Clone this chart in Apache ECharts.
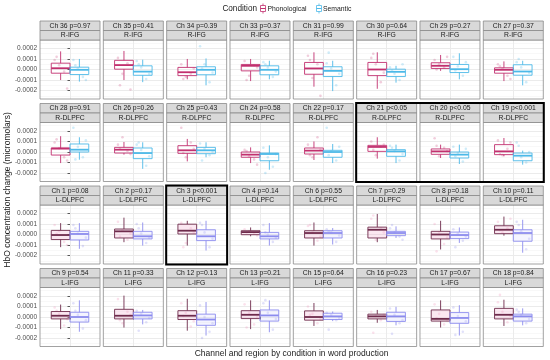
<!DOCTYPE html>
<html><head><meta charset="utf-8">
<script src="https://cdn.jsdelivr.net/npm/echarts@6/dist/echarts.min.js"></script>
<style>html,body{margin:0;padding:0;background:#fff}#c{width:550px;height:360px}</style>
</head><body><div id="c"></div>
<script>
// ---- data (values in units of 1e-4 micromolars) ----
const channels = ['Ch 36','Ch 35','Ch 34','Ch 33','Ch 31','Ch 30','Ch 29','Ch 27',
  'Ch 28','Ch 26','Ch 25','Ch 24','Ch 22','Ch 21','Ch 20','Ch 19',
  'Ch 1','Ch 2','Ch 3','Ch 4','Ch 6','Ch 7','Ch 8','Ch 10',
  'Ch 9','Ch 11','Ch 12','Ch 13','Ch 15','Ch 16','Ch 17','Ch 18'];
const pvalues = ['p=0.97','p=0.41','p=0.39','p=0.37','p=0.99','p=0.64','p=0.27','p=0.37',
  'p=0.91','p=0.26','p=0.43','p=0.58','p=0.17','p<0.05','p<0.05','p<0.001',
  'p=0.08','p=0.17','p<0.001','p=0.14','p=0.55','p=0.29','p=0.18','p=0.11',
  'p=0.54','p=0.33','p=0.13','p=0.21','p=0.64','p=0.23','p=0.67','p=0.84'];
const regions = ['R-IFG','R-DLPFC','L-DLPFC','L-IFG'];
const conditions = ['Phonological','Semantic'];
const highlighted = ['Ch 21','Ch 20','Ch 19','Ch 3'];
const yTicks = [-0.0002,-0.0001,0,0.0001,0.0002];
const yMinor = [-0.00025,-0.00015,-0.00005,0.00005,0.00015,0.00025];
// [lower whisker, Q1, median, Q3, upper whisker]
const phonStats = [
 [-1.0,-0.35,0.12,0.6,1.72],[-1.0,0.03,0.42,0.87,1.76],[-0.93,-0.58,-0.26,0.2,1.0],[-1.1,-0.13,0.35,0.48,1.0],
 [-1.63,-0.45,0.1,0.67,1.63],[-1.83,-0.58,0,0.67,1.63],[-0.13,0.1,0.35,0.64,1.38],[-1.1,-0.35,-0.03,0.16,0.77],
 [-1.05,-0.29,0.32,0.38,1.5],[-0.25,-0.1,0.22,0.44,0.95],[-0.89,-0.13,0.16,0.6,1.24],[-1.05,-0.5,-0.25,0,0.44],
 [-0.76,-0.19,0.13,0.38,1.0],[-0.63,0.06,0.48,0.63,1.4],[-0.57,-0.22,0.06,0.29,0.7],[-0.41,-0.25,0.06,0.7,1.33],
 [-1.2,-0.48,-0.05,0.39,1.08],[-0.73,-0.33,0.3,0.52,1.6],[-1.05,0.05,0.36,0.98,1.3],[-0.17,-0.02,0.23,0.36,0.67],
 [-1.05,-0.33,0.14,0.36,1.14],[-0.73,-0.33,0.45,0.7,1.95],[-1.42,-0.42,0,0.3,1.3],[-0.11,0.08,0.45,0.83,1.7],
 [-1.15,-0.18,0.12,0.52,1.18],[-1.0,-0.18,0.12,0.73,2.03],[-1.3,-0.24,0.12,0.6,1.73],[-1.15,-0.15,0.21,0.6,1.58],
 [-0.85,-0.3,0,0.58,1.33],[-0.55,-0.18,0.06,0.27,0.67],[-1.0,-0.39,-0.18,0.67,1.58],[-0.85,-0.18,0.21,0.82,1.64]];
const semStats = [
 [-1.15,-0.48,-0.03,0.22,1.0],[-1.2,-0.55,-0.2,0.35,0.93],[-1.5,-0.5,-0.03,0.26,1.05],[-0.93,-0.5,-0.03,0.35,0.83],
 [-2.05,-0.67,-0.13,0.26,0.83],[-1.25,-0.67,-0.22,0.03,0.35],[-0.93,-0.29,0.03,0.48,1.54],[-1.5,-0.54,-0.19,0.45,0.83],
 [-0.73,0,0.22,0.76,1.4],[-1.6,-0.63,-0.1,0.38,0.92],[-0.5,-0.16,0.16,0.44,0.92],[-1.68,-0.83,-0.19,-0.1,0.63],
 [-1.05,-0.5,0,0.16,0.76],[-1.05,-0.41,0.06,0.22,0.7],[-1.14,-0.57,-0.25,0,0.7],[-1.2,-0.83,-0.35,-0.1,0.13],
 [-1.36,-0.52,0.05,0.3,1.08],[-1.05,-0.42,-0.17,0.3,1.14],[-1.52,-0.58,-0.17,0.45,1.3],[-1.05,-0.42,-0.17,0.2,1.08],
 [-0.95,-0.33,0.14,0.36,0.61],[-0.33,-0.11,0.14,0.3,0.77],[-0.8,-0.39,-0.05,0.23,0.67],[-1.73,-0.64,0.14,0.45,1.4],
 [-1.4,-0.48,0,0.45,1.58],[-0.7,-0.18,0.15,0.45,0.67],[-1.76,-0.79,-0.24,0.27,1.42],[-1.45,-0.39,0.15,0.67,1.58],
 [-0.39,-0.24,0.06,0.36,0.52],[-0.79,-0.42,0.06,0.45,0.97],[-1.76,-0.6,-0.09,0.42,1.12],[-0.79,-0.39,0.06,0.27,0.82]];
// individual observations (visible points, estimated)
const phonPts = [
 [0.9,-0.2,0.4,-1.8,1.2],[1.1,0.6,-0.4,-1.9,-1.5],[0.5,-0.4,-0.7,0.1,-0.9],[0.8,0.4,-0.6,0.2,-1.0],
 [1.3,0.5,-0.8,-2.5,0.9],[1.1,-1.2,0.5,-0.3,1.5],[0.9,0.2,0.5,1.2,0.0],[0.5,-0.6,0.1,-0.9,0.3],
 [0.9,-0.5,0.35,-0.8,1.2],[0.7,0.1,1.4,-0.2,0.3],[2.3,0.9,-0.5,0.3,-0.1],[0.2,-0.7,-0.4,-1.2,0.1],
 [0.7,1.4,-0.5,0.2,-0.3],[1.0,0.5,-0.3,0.7,0.2],[1.3,0.4,-0.4,0.1,0.6],[1.1,0.3,-0.3,0.9,-0.2],
 [0.9,-0.7,0.3,-1.0,0.1],[1.2,-0.5,0.4,0.1,-0.2],[1.1,0.6,-0.8,0.2,-1.2],[0.5,0.1,0.3,-0.1,0.2],
 [0.8,-0.6,0.2,-0.2,0.9],[1.5,0.6,-0.5,0.2,1.8],[1.0,-0.9,0.2,-0.3,-1.6],[1.2,0.6,0.2,1.5,0.4],
 [0.9,-0.8,0.3,-0.2,0.6],[1.7,0.5,-0.6,0.2,-0.3],[1.3,-0.9,0.4,-0.4,0.1],[1.2,-0.7,0.4,0.0,-1.0],
 [1.0,-0.6,0.3,-0.2,0.2],[0.5,-0.3,0.1,0.2,-1.5],[1.2,-0.7,0.3,-0.3,-0.1],[1.4,-0.5,0.5,0.1,2.1]];
const semPts = [
 [0.9,-0.7,0.1,-1.0,0.4],[0.8,-0.9,0.2,-0.4,0.5],[2.2,-1.2,0.5,-0.3,0.1],[0.7,-0.7,0.2,-0.2,0.5],
 [0.6,-1.5,0.1,-0.4,1.6],[0.2,-1.0,-0.4,0.5,-0.1],[1.2,-0.6,0.3,0.7,-0.1],[0.7,-1.2,0.2,-0.3,1.0],
 [2.3,-0.5,0.5,1.1,-0.7],[0.7,-1.3,0.2,-0.4,0.9],[0.8,-0.3,0.3,0.0,-0.8],[0.4,-1.4,-0.5,-0.2,-2.0],
 [2.3,-0.8,0.1,0.5,-0.3],[0.6,-0.8,0.1,-0.2,0.4],[0.5,-0.9,-0.1,0.3,-0.4],[0.9,-1.0,-0.5,0.0,0.6],
 [0.9,-1.1,0.1,-0.3,0.6],[1.0,-0.8,0.1,-0.3,0.6],[1.1,-1.2,0.2,-0.4,0.9],[0.9,-0.7,0.0,-0.3,0.2],
 [0.5,-0.7,0.2,-0.1,0.3],[0.6,-0.2,0.2,-0.5,0.9],[0.5,-0.6,0.1,-0.2,-1.2],[1.2,-1.4,0.3,-0.4,0.9],
 [1.3,-1.1,0.2,-0.3,0.6],[0.6,-0.5,0.3,-0.1,-1.3],[1.1,-1.4,0.0,-0.6,-2.0],[1.3,-1.2,0.4,-0.2,1.6],
 [0.4,-0.3,0.2,-0.1,-1.2],[0.8,-0.6,0.2,-0.3,-1.6],[0.9,-1.4,0.1,-0.4,-1.7],[0.7,-0.6,0.2,-0.2,0.5]];
const UNIT = 1e-4;

// ---- layout / style ----
const FONT = '"Liberation Sans", Arial, Helvetica, sans-serif';
const PW = 60, PH = 59, STRIP = 9.5;
const colLeft = c => 40 + c * 63.33;
const rowTop = r => 21 + r * 82.5;
const DODGE = 0.1875, BOXW = 0.375;
const JIT = [-0.12, 0.07, -0.03, 0.13, -0.08];
const palette = [
  [{stroke:'#c2306f', fill:'rgba(255,255,255,0)', pt:'rgba(200,60,120,0.32)'},
   {stroke:'#4cb9e8', fill:'rgba(255,255,255,0)', pt:'rgba(70,180,230,0.32)'}],
  [{stroke:'#6e2b4c', fill:'rgba(240,170,205,0.28)', pt:'rgba(235,120,170,0.28)'},
   {stroke:'#8c8cee', fill:'rgba(195,195,255,0.18)', pt:'rgba(140,140,235,0.32)'}]
];

const grids = [], xAxes = [], yAxes = [], yMinorAxes = [], series = [], graphics = [];
const N = channels.length;
for (let i = 0; i < N; i++) {
  const r = Math.floor(i / 8), c = i % 8;
  const left = colLeft(c), top = rowTop(r) + 2 * STRIP;
  grids.push({left, top, width: PW, height: PH, show: true, backgroundColor: '#fff', borderWidth: 0});
  xAxes.push({gridIndex: i, type: 'value', min: -0.6, max: 0.6, interval: 0.6,
    axisLine: {show: false}, axisLabel: {show: false},
    axisTick: {show: r === 3, length: 2.5, customValues: [0], lineStyle: {color: '#333', width: 0.8}},
    splitLine: {show: true, lineStyle: {color: '#ebebeb', width: 1}}});
  yAxes.push({gridIndex: i, type: 'value', min: -2.8 * UNIT, max: 2.8 * UNIT,
    axisLine: {show: false},
    axisTick: {show: c === 0, length: 2.5, customValues: yTicks, lineStyle: {color: '#333', width: 0.8}},
    axisLabel: {show: c === 0, customValues: yTicks, formatter: v => v.toFixed(4), fontSize: 6.5,
      color: '#4d4d4d', margin: 3, fontFamily: FONT},
    splitLine: {show: true, lineStyle: {color: '#ebebeb', width: 1}}});
  yMinorAxes.push({gridIndex: i, type: 'value', min: -2.8 * UNIT, max: 2.8 * UNIT,
    axisLine: {show: false}, axisLabel: {show: false, customValues: yMinor},
    axisTick: {show: false, customValues: yMinor},
    splitLine: {show: true, lineStyle: {color: '#f4f4f4', width: 0.6}}});
  const pal = palette[r < 2 ? 0 : 1];
  const stats = [phonStats[i], semStats[i]];
  const pts = [phonPts[i], semPts[i]];
  for (let k = 0; k < 2; k++) {
    const cx = k === 0 ? -DODGE : DODGE;
    const col = pal[k];
    series.push({type: 'scatter', xAxisIndex: i, yAxisIndex: i, silent: true, z: 2,
      symbolSize: 2.6, itemStyle: {color: col.pt},
      data: pts[k].map((v, j) => [cx + JIT[j], v * UNIT])});
    series.push({type: 'custom', xAxisIndex: i, yAxisIndex: i, silent: true, z: 3,
      data: [[cx].concat(stats[k].map(v => v * UNIT))],
      renderItem: (params, api) => {
        const x = api.value(0);
        const P = j => api.coord([x, api.value(j)]);
        const lo = P(1), q1 = P(2), md = P(3), q3 = P(4), hi = P(5);
        const hw = api.size([BOXW, 0])[0] / 2;
        const st = {stroke: col.stroke, lineWidth: 0.9};
        return {type: 'group', children: [
          {type: 'line', shape: {x1: lo[0], y1: lo[1], x2: q1[0], y2: q1[1]}, style: st},
          {type: 'line', shape: {x1: q3[0], y1: q3[1], x2: hi[0], y2: hi[1]}, style: st},
          {type: 'rect', shape: {x: q3[0] - hw, y: q3[1], width: 2 * hw, height: q1[1] - q3[1]},
            style: {fill: col.fill, stroke: col.stroke, lineWidth: 0.9}},
          {type: 'line', shape: {x1: md[0] - hw, y1: md[1], x2: md[0] + hw, y2: md[1]},
            style: {stroke: col.stroke, lineWidth: 1.8}}
        ]};
      }});
  }
  graphics.push({type: 'rect', z: 50, silent: true, shape: {x: left, y: top, width: PW, height: PH},
    style: {fill: 'none', stroke: '#8a8a8a', lineWidth: 0.8}});
  const labels = [channels[i] + ' ' + pvalues[i], regions[r]];
  for (let s = 0; s < 2; s++) {
    const sy = rowTop(r) + s * STRIP;
    graphics.push({type: 'rect', z: 50, silent: true, shape: {x: left, y: sy, width: PW, height: STRIP},
      style: {fill: '#d9d9d9', stroke: '#8a8a8a', lineWidth: 0.8}});
    graphics.push({type: 'text', z: 51, silent: true, style: {text: labels[s], x: left + PW / 2, y: sy + STRIP / 2 + 0.3,
      align: 'center', verticalAlign: 'middle', fontSize: 6.8, fontFamily: FONT, fill: '#1a1a1a'}});
  }
}
function hlRect(c0, c1, r) {
  const x0 = colLeft(c0) - 0.5, x1 = colLeft(c1) + PW + 0.5;
  const y0 = rowTop(r) - 0.5, y1 = rowTop(r) + 2 * STRIP + PH + 0.5;
  graphics.push({type: 'rect', z: 60, silent: true, shape: {x: x0, y: y0, width: x1 - x0, height: y1 - y0},
    style: {fill: 'none', stroke: '#000', lineWidth: 2}});
}
const hIdx = highlighted.map(h => channels.indexOf(h));
hlRect(hIdx[0] % 8, hIdx[2] % 8, Math.floor(hIdx[0] / 8));
hlRect(hIdx[3] % 8, hIdx[3] % 8, Math.floor(hIdx[3] / 8));

// legend
graphics.push({type: 'text', style: {text: 'Condition', x: 257, y: 8.5, align: 'right', verticalAlign: 'middle', fontSize: 8.2, fontFamily: FONT, fill: '#1a1a1a'}});
const legX = [260.5, 316.5], legTX = [267.5, 323];
for (let k = 0; k < 2; k++) {
  const col = palette[0][k];
  const x = legX[k];
  graphics.push({type: 'line', shape: {x1: x + 2.5, y1: 3.5, x2: x + 2.5, y2: 13.5}, style: {stroke: col.stroke, lineWidth: 0.8}});
  graphics.push({type: 'rect', shape: {x: x, y: 5.5, width: 5, height: 6}, style: {fill: '#fff', stroke: col.stroke, lineWidth: 0.8}});
  graphics.push({type: 'line', shape: {x1: x, y1: 8.5, x2: x + 5, y2: 8.5}, style: {stroke: col.stroke, lineWidth: 1}});
  graphics.push({type: 'text', style: {text: conditions[k], x: legTX[k], y: 8.8, verticalAlign: 'middle', fontSize: 6.8, fontFamily: FONT, fill: '#1a1a1a'}});
}
graphics.push({type: 'text', style: {text: 'Channel and region by condition in word production', x: 291.5, y: 353.5,
  align: 'center', verticalAlign: 'middle', fontSize: 8.5, fontFamily: FONT, fill: '#1a1a1a'}});
graphics.push({type: 'text', x: 8, y: 190, rotation: Math.PI / 2, style: {text: 'HbO concentration change (micromolars)', x: 0, y: 0,
  align: 'center', verticalAlign: 'middle', fontSize: 8.5, fontFamily: FONT, fill: '#1a1a1a'}});

const chart = echarts.init(document.getElementById('c'), null, {renderer: 'canvas'});
chart.setOption({animation: false, backgroundColor: '#fff', grid: grids, xAxis: xAxes,
  yAxis: yAxes.concat(yMinorAxes), series, graphic: {elements: graphics}});
</script></body></html>
